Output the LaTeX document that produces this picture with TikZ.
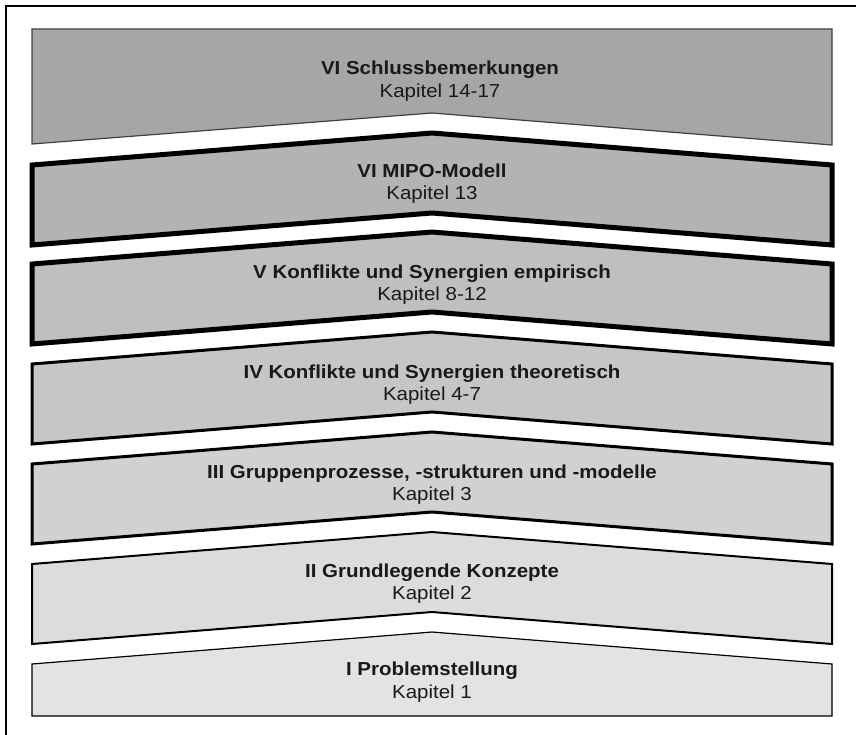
\documentclass[tikz,border=0pt]{standalone}
\usepackage{fontspec}
\setmainfont{Liberation Sans}[FakeStretch=1.09]
\usepackage{xcolor}
\usetikzlibrary{positioning}
\definecolor{bandsix}{HTML}{A6A6A6}
\definecolor{bandfive}{HTML}{B3B3B3}
\definecolor{bandfour}{HTML}{BFBFBF}
\definecolor{bandthree}{HTML}{C6C6C6}
\definecolor{bandtwo}{HTML}{D1D1D1}
\definecolor{bandone}{HTML}{DCDCDC}
\definecolor{bandzero}{HTML}{E3E3E3}

\begin{document}
\begin{tikzpicture}[
        x=1pt, y=-1pt,
        every node/.style={align=center, inner sep=0pt, anchor=base, text=black!90},
        title/.style={font=\fontsize{18.8}{22}\selectfont\bfseries},
        chapter/.style={font=\fontsize{18.8}{22}\selectfont},
        band/.style={draw=black, line join=miter},
        thinband/.style={band, line width=1.2pt},
        midband/.style={band, line width=2pt},
        thickband/.style={band, line width=3pt},
        heavyband/.style={band, line width=5pt}
    ]
    \useasboundingbox (0,0) rectangle (856,735);

    % Frame
    \draw[line width=1.4pt] (6,735) -- (6,6) -- (856,6);

    % Bands
    \filldraw[thinband, draw=black!75, fill=bandsix] (32,29) -- (832,29) -- (832,145) -- (432,113) -- (32,144) -- cycle;
    \filldraw[heavyband, fill=bandfive] (32,165) -- (432,133) -- (832,165) -- (832,245) -- (432,213) -- (32,245) -- cycle;
    \filldraw[heavyband, fill=bandfour] (32,264) -- (432,232) -- (832,264) -- (832,344) -- (432,312) -- (32,344) -- cycle;
    \filldraw[thickband, fill=bandthree] (32,364) -- (432,332) -- (832,364) -- (832,444) -- (432,412) -- (32,444) -- cycle;
    \filldraw[thickband, fill=bandtwo] (32,464) -- (432,432) -- (832,464) -- (832,544) -- (432,512) -- (32,544) -- cycle;
    \filldraw[midband, fill=bandone] (32,564) -- (432,532) -- (832,564) -- (832,644) -- (432,612) -- (32,644) -- cycle;
    \filldraw[thinband, fill=bandzero] (32,664) -- (432,632) -- (832,664) -- (832,716) -- (32,716) -- cycle;

    % Labels
    \node[title] (schluss) at (440,75) {VI Schlussbemerkungen};
    \node[chapter] (schlussKap) at ([yshift=-23pt]schluss.base) {Kapitel 14-17};
    \node[title] (mipo) at (432,178) {VI MIPO-Modell};
    \node[chapter] (mipoKap) at ([yshift=-22pt]mipo.base) {Kapitel 13};
    \node[title] (empir) at (432,278) {V Konflikte und Synergien empirisch};
    \node[chapter] (empirKap) at ([yshift=-22pt]empir.base) {Kapitel 8-12};
    \node[title] (theor) at (432,378) {IV Konflikte und Synergien theoretisch};
    \node[chapter] (theorKap) at ([yshift=-22pt]theor.base) {Kapitel 4-7};
    \node[title] (gruppe) at (432,478) {III Gruppenprozesse, -strukturen und -modelle};
    \node[chapter] (gruppeKap) at ([yshift=-22pt]gruppe.base) {Kapitel 3};
    \node[title] (grund) at (432,577) {II Grundlegende Konzepte};
    \node[chapter] (grundKap) at ([yshift=-22pt]grund.base) {Kapitel 2};
    \node[title] (problem) at (432,675) {I Problemstellung};
    \node[chapter] (problemKap) at ([yshift=-23pt]problem.base) {Kapitel 1};

\end{tikzpicture}
\end{document}
